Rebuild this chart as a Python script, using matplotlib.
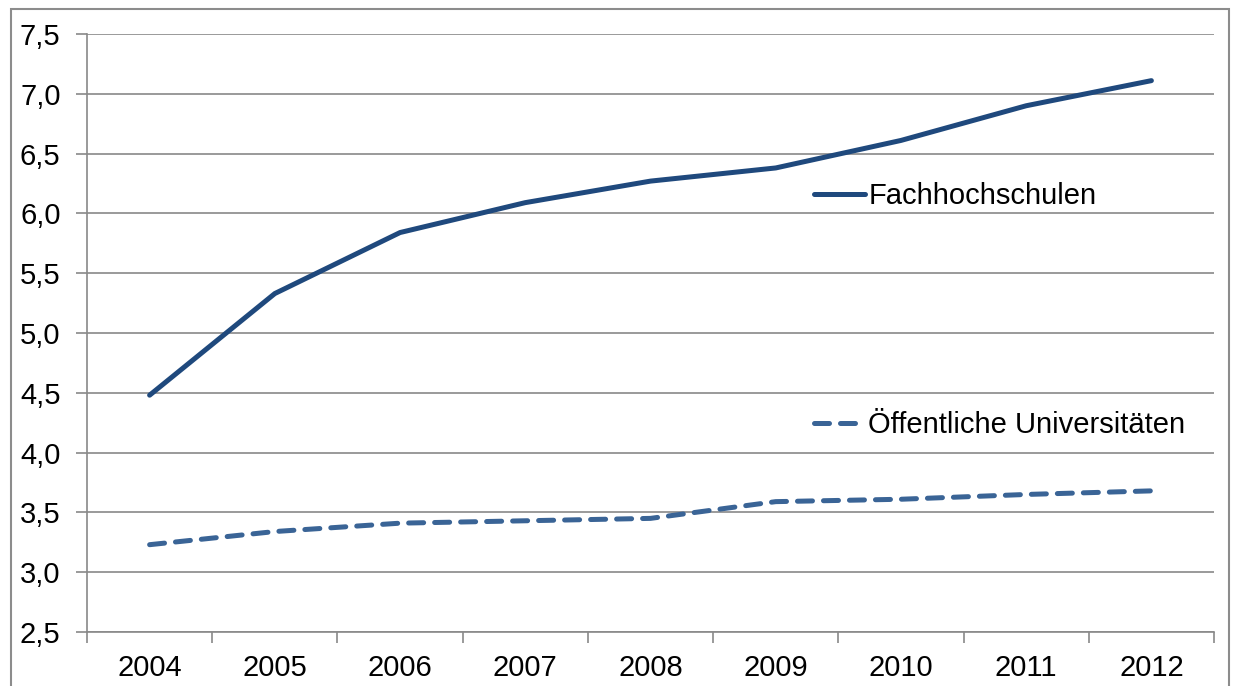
import numpy as np
import matplotlib.pyplot as plt
from matplotlib.ticker import FixedLocator, FuncFormatter
from matplotlib.patches import Rectangle

# data
years = ["2004", "2005", "2006", "2007", "2008", "2009", "2010", "2011", "2012"]
fachhochschulen = [4.48, 5.33, 5.84, 6.09, 6.27, 6.38, 6.61, 6.90, 7.11]
universitaeten = [3.23, 3.34, 3.41, 3.43, 3.45, 3.59, 3.61, 3.65, 3.68]

plt.rcParams["font.family"] = ["Liberation Sans", "DejaVu Sans"]
plt.rcParams["font.size"] = 21

grid_col = "#898989"

fig = plt.figure(figsize=(12.34, 6.86), dpi=100)
ax = fig.add_axes([87/1234, 1 - 632/686, (1214-87)/1234, (632-34)/686])

# outer chart border (bottom edge runs off the image)
fig.patches.append(Rectangle((11/1234, -0.02), (1229-11)/1234, 1.02 - 9/686,
                             transform=fig.transFigure, fill=False,
                             edgecolor="#8c8c8c", linewidth=1.5))

x = np.arange(len(years))
ax.plot(x, fachhochschulen, color="#1f497d", linewidth=3.6,
        solid_capstyle="round", label="Fachhochschulen")
ax.plot(x, universitaeten, color="#3a6496", linewidth=3.6,
        linestyle=(0, (3, 2.2)), dash_capstyle="round",
        label="Öffentliche Universitäten")

# y axis
ax.set_ylim(2.5, 7.5)
ax.set_yticks(np.arange(2.5, 7.51, 0.5))
ax.yaxis.set_major_formatter(FuncFormatter(lambda v, p: f"{v:.1f}".replace(".", ",")))
ax.grid(axis="y", color=grid_col, linewidth=1.2)
ax.set_axisbelow(True)

# x axis: labels at the centres, ticks at category boundaries
ax.set_xlim(-0.5, len(years) - 0.5)
ax.set_xticks(x)
ax.set_xticklabels(years)
ax.xaxis.set_minor_locator(FixedLocator(np.arange(-0.5, len(years), 1.0)))
ax.tick_params(axis="x", which="major", length=0, pad=16)
ax.tick_params(axis="x", which="minor", length=8, width=1.2, color=grid_col)
ax.tick_params(axis="y", length=8, width=1.2, color=grid_col, pad=11)

for s in ["top", "right"]:
    ax.spines[s].set_visible(False)
for s in ["left", "bottom"]:
    ax.spines[s].set_color(grid_col)
    ax.spines[s].set_linewidth(1.2)

ax.legend(loc="upper left", bbox_to_anchor=(0.635, 0.772), frameon=False,
          handlelength=1.75, handletextpad=0.1, labelspacing=6.9,
          borderaxespad=0, fontsize=21)

fig.savefig("out.png", dpi=100)
